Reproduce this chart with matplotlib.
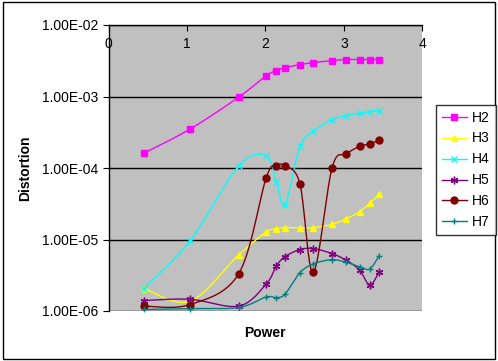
import numpy as np
import matplotlib.pyplot as plt
from matplotlib.patches import Rectangle
from matplotlib.ticker import FixedLocator, FuncFormatter, NullLocator

plt.rcParams['font.family'] = ['Liberation Sans', 'DejaVu Sans']

# Power values (same for every series)
power = [0.45, 1.04, 1.66, 2.01, 2.14, 2.25, 2.44, 2.61, 2.85, 3.03, 3.20, 3.33, 3.45]

H2 = [1.61e-4, 3.5e-4, 9.8e-4, 1.95e-3, 2.3e-3, 2.53e-3, 2.79e-3, 2.98e-3, 3.18e-3, 3.29e-3, 3.29e-3, 3.29e-3, 3.29e-3]
H3 = [2.06e-6, 1.37e-6, 6.1e-6, 1.27e-5, 1.41e-5, 1.46e-5, 1.46e-5, 1.46e-5, 1.63e-5, 1.95e-5, 2.45e-5, 3.21e-5, 4.26e-5]
H4 = [2.06e-6, 9.6e-6, 1.07e-4, 1.48e-4, 6.4e-5, 3.08e-5, 2.0e-4, 3.24e-4, 4.74e-4, 5.4e-4, 5.8e-4, 6.15e-4, 6.35e-4]
H5 = [1.4e-6, 1.46e-6, 1.17e-6, 2.38e-6, 4.26e-6, 5.77e-6, 7.23e-6, 7.47e-6, 6.35e-6, 5.12e-6, 3.74e-6, 2.3e-6, 3.54e-6]
H6 = [1.17e-6, 1.23e-6, 3.32e-6, 7.3e-5, 1.07e-4, 1.07e-4, 6.0e-5, 3.47e-6, 1.01e-4, 1.57e-4, 2.0e-4, 2.18e-4, 2.43e-4]
H7 = [1.05e-6, 1.08e-6, 1.12e-6, 1.57e-6, 1.54e-6, 1.72e-6, 3.43e-6, 4.55e-6, 5.22e-6, 4.79e-6, 4.17e-6, 3.87e-6, 5.96e-6]

series = [('H2', H2, '#FF00FF', 's', 4.5),
          ('H3', H3, '#FFFF00', '^', 5),
          ('H4', H4, '#00FFFF', 'x', 4.5),
          ('H5', H5, '#800080', (6, 2, 0), 5.5),
          ('H6', H6, '#800000', 'o', 5),
          ('H7', H7, '#008080', '+', 5)]


def smooth(x, y, n=20):
    # Catmull-Rom through the points in (x, log y) space, like Excel smoothed lines
    x = np.asarray(x, float)
    ly = np.log10(y)
    px = np.concatenate([[x[0]], x, [x[-1]]])
    py = np.concatenate([[ly[0]], ly, [ly[-1]]])
    xs, ys = [], []
    t = np.linspace(0, 1, n)
    for i in range(1, len(px) - 2):
        p0, p1, p2, p3 = (np.array([px[j], py[j]]) for j in (i - 1, i, i + 1, i + 2))
        c1 = p1 + (p2 - p0) / 6
        c2 = p2 - (p3 - p1) / 6
        b = ((1 - t) ** 3)[:, None] * p1 + (3 * (1 - t) ** 2 * t)[:, None] * c1 \
            + (3 * (1 - t) * t ** 2)[:, None] * c2 + (t ** 3)[:, None] * p2
        xs.extend(b[:, 0])
        ys.extend(b[:, 1])
    return np.array(xs), 10 ** np.array(ys)


fig = plt.figure(figsize=(4.98, 3.61), dpi=100)
ax = fig.add_axes([108.5 / 498, 1 - 311 / 361, (422.3 - 108.5) / 498, (311 - 25) / 361])
ax.set_facecolor('#C0C0C0')

for name, vals, col, mk, ms in series:
    sx, sy = smooth(power, vals)
    ax.plot(sx, sy, color=col, lw=1, clip_on=False)
    ax.plot(power, vals, linestyle='none', marker=mk, color=col, markersize=ms,
            markeredgewidth=1, clip_on=False)
    ax.plot([], [], color=col, lw=1, marker=mk, markersize=ms, label=name)

ax.set_yscale('log')
ax.set_ylim(1e-6, 1e-2)
ax.set_xlim(0, 4)
ax.yaxis.set_major_locator(FixedLocator([1e-6, 1e-5, 1e-4, 1e-3, 1e-2]))
ax.yaxis.set_minor_locator(NullLocator())
ax.yaxis.set_major_formatter(FuncFormatter(lambda v, p: '%.2E' % v))
ax.grid(axis='y', color='black', lw=1)
ax.set_axisbelow(True)

ax.xaxis.tick_top()
ax.set_xticks([0, 1, 2, 3, 4])
ax.tick_params(axis='x', direction='in', length=4, pad=-19, labelsize=10)
ax.tick_params(axis='y', direction='out', length=4, labelsize=10)
for s in ['right', 'bottom']:
    ax.spines[s].set_visible(False)
ax.spines['left'].set_linewidth(1)
ax.spines['top'].set_linewidth(1)

fig.text(265 / 498, 1 - 333 / 361, 'Power', ha='center', va='center',
         fontsize=10, fontweight='bold')
fig.text(25 / 498, 1 - 168 / 361, 'Distortion', ha='center', va='center',
         rotation=90, fontsize=10, fontweight='bold')

leg = fig.legend(loc='upper left', bbox_to_anchor=(436 / 498, 1 - 105 / 361),
                 frameon=True, fancybox=False, edgecolor='black', fontsize=10,
                 handlelength=1.8, labelspacing=0.5, borderpad=0.4,
                 handletextpad=0.4, borderaxespad=0)
leg.get_frame().set_linewidth(1)

fig.patches.append(Rectangle((3 / 498, 2 / 361), 492 / 498, 357 / 361,
                             transform=fig.transFigure, fill=False,
                             edgecolor='black', lw=1))

fig.savefig('out.png', dpi=100)
